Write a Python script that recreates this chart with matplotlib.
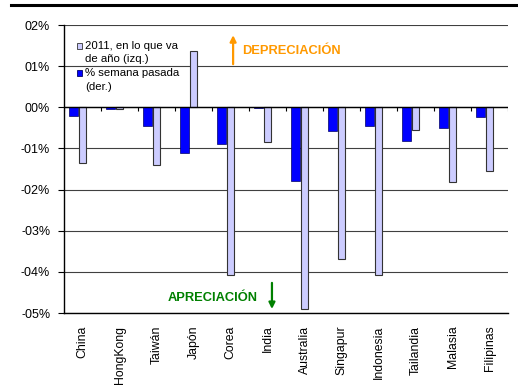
import matplotlib
matplotlib.use('Agg')
import matplotlib.pyplot as plt
from matplotlib.lines import Line2D
from matplotlib.patches import Rectangle
from matplotlib.ticker import FuncFormatter
import numpy as np

plt.rcParams['font.family'] = ['Liberation Sans', 'DejaVu Sans']

# Data (percent change)
countries = ['China', 'HongKong', 'Taiwán', 'Japón', 'Corea', 'India', 'Australia',
             'Singapur', 'Indonesia', 'Tailandia', 'Malasia', 'Filipinas']
ytd_2011 = [-1.35, -0.03, -1.40, 1.38, -4.08, -0.85, -4.91, -3.69, -4.08, -0.54, -1.81, -1.54]
last_week = [-0.21, -0.05, -0.46, -1.10, -0.89, -0.02, -1.79, -0.58, -0.45, -0.81, -0.50, -0.24]
yticks = [2, 1, 0, -1, -2, -3, -4, -5]

W, H = 518, 392


def pct_fmt(v, pos):
    v = int(round(v))
    if v < 0:
        return '-%02d%%' % abs(v)
    return '%02d%%' % v


def px(x, y):
    # pixel position -> figure fraction
    return x / W, 1 - y / H


def main():
    fig = plt.figure(figsize=(5.18, 3.92), dpi=100)
    ax = fig.add_axes([0.1236, 0.2015, 0.8571, 0.7347])

    x = np.arange(len(countries))
    ax.bar(x - 0.245, last_week, width=0.235, color='#0000FF', edgecolor='#000066',
           linewidth=0.5, zorder=3)
    ax.bar(x, ytd_2011, width=0.21, color='#CCCCFF', edgecolor='#333333',
           linewidth=0.8, zorder=3)

    ax.set_xlim(-0.5, len(countries) - 0.5)
    ax.set_ylim(-5, 2)
    ax.set_yticks(yticks)
    ax.yaxis.set_major_formatter(FuncFormatter(pct_fmt))
    ax.grid(True, axis='y', color='#404040', linewidth=0.8, zorder=0)

    ax.set_xticks(x)
    ax.set_xticklabels(countries, rotation=90, fontsize=8.8)
    ax.tick_params(axis='x', length=0, pad=9)
    ax.tick_params(axis='y', length=4, labelsize=9, pad=6)

    for s in ['top', 'right']:
        ax.spines[s].set_visible(False)
    ax.spines['left'].set_linewidth(1.0)
    ax.spines['bottom'].set_linewidth(1.0)

    # zero line with category boundary ticks
    ax.axhline(0, color='black', linewidth=1.0, zorder=4)
    bounds = np.arange(len(countries) + 1) - 0.5
    ax.vlines(bounds, -0.1, 0, color='black', linewidth=0.8, zorder=4)

    # legend (drawn by hand so the square sits on the first text line)
    legend_items = [('#CCCCFF', '#333333', ['2011, en lo que va', 'de año (izq.)'], 46),
                    ('#0000FF', '#000066', ['% semana pasada', '(der.)'], 73)]
    for face, edge, lines, ytop in legend_items:
        sx, sy = px(77, ytop + 3)
        fig.patches.append(Rectangle((sx, sy), 5 / W, 6 / H, transform=fig.transFigure,
                                     facecolor=face, edgecolor=edge, linewidth=0.6))
        for k, line in enumerate(lines):
            tx, ty = px(85, ytop + k * 13.5)
            fig.text(tx, ty, line, fontsize=8.2, va='center', ha='left')

    # annotations
    ax.annotate('', xy=(4.07, 1.82), xytext=(4.07, 0.98),
                arrowprops=dict(arrowstyle='-|>', color='#FF9900', lw=1.6,
                                mutation_scale=9))
    ax.text(4.32, 1.37, 'DEPRECIACIÓN', color='#FF9900', fontsize=9.3,
            fontweight='bold', va='center', ha='left')
    ax.annotate('', xy=(5.12, -4.97), xytext=(5.12, -4.2),
                arrowprops=dict(arrowstyle='-|>', color='#008000', lw=1.6,
                                mutation_scale=9))
    ax.text(4.74, -4.63, 'APRECIACIÓN', color='#008000', fontsize=9.3,
            fontweight='bold', va='center', ha='right')

    fig.add_artist(Line2D([0.021, 1.0], [0.987, 0.987], color='black', linewidth=2.2))

    fig.savefig('out.png', dpi=100)


if __name__ == "__main__":
    main()
